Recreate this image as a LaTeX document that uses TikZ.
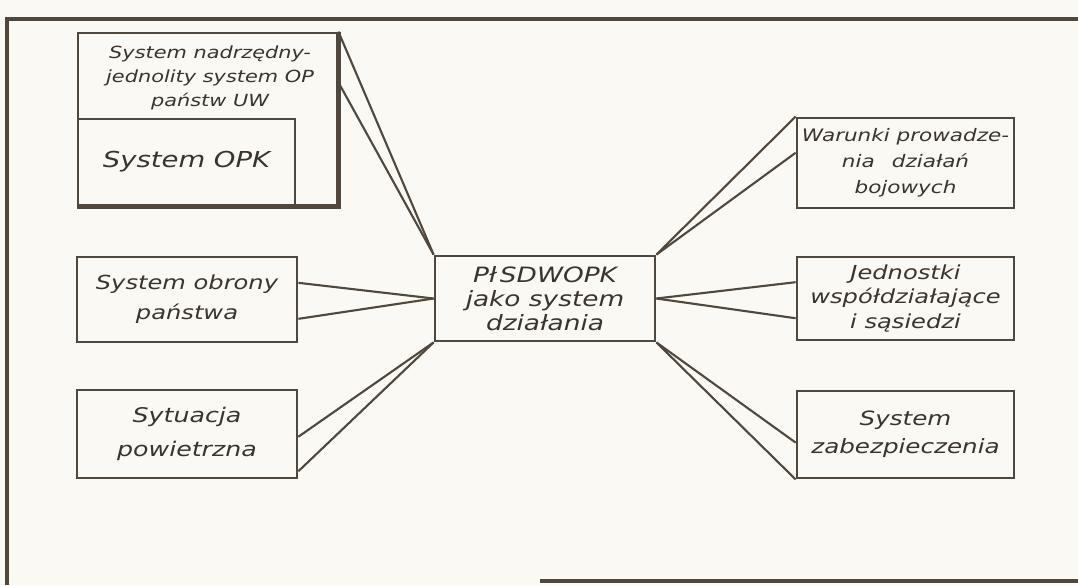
\documentclass[tikz,border=0pt]{standalone}
\usepackage{fontspec}
\setmainfont{DejaVu Sans}[FakeStretch=1.25]
\usetikzlibrary{calc}
\definecolor{ink}{RGB}{80,72,60}
\definecolor{inktext}{RGB}{58,52,44}
\definecolor{paper}{RGB}{250,249,244}

\begin{document}
\begin{tikzpicture}[x=0.02cm,y=-0.02cm,
    box/.style={draw=ink,line width=1.6pt,minimum width=4.4cm,minimum height=1.7cm,
      align=center,inner sep=1pt,text=inktext},
    conn/.style={ink,line width=1.2pt}]
  \fill[paper] (0,0) rectangle (1078,585);
  \useasboundingbox (0,0) rectangle (1078,585);
  % ramka strony
  \draw[ink,line width=2pt] (7,585)--(7,19)--(1078,19);
  \draw[ink,line width=2pt] (540,581)--(1078,581);

  % lewa strona
  \node[box,minimum width=5.18cm,minimum height=3.44cm] (nadrz) at (207.5,119) {};
  \draw[ink,line width=2.6pt] (nadrz.north east)--(nadrz.south east)--(nadrz.south west);
  \node[align=center,text=inktext,font=\itshape\fontsize{9.5}{13.5}\selectfont] (nadrztxt) at (210,78)
    {System nadrzędny-\\jednolity system OP\\państw UW};
  \node[box,minimum width=4.34cm,minimum height=1.72cm,font=\itshape\fontsize{12.5}{15}\selectfont] (opk) at (186.5,162)
    {System OPK};
  \node[box,font=\itshape\fontsize{11}{17}\selectfont] (obrona) at (187,299.5)
    {System obrony\\państwa};
  \node[box,minimum height=1.76cm,font=\itshape\fontsize{11.5}{19}\selectfont] (sytuacja) at (187,434)
    {Sytuacja\\powietrzna};

  % srodek
  \node[box,font=\itshape\fontsize{12}{13.7}\selectfont] (centre) at (545,298.5)
    {Pł\,SDWOPK\\jako system\\działania};

  % prawa strona
  \node[box,minimum width=4.34cm,minimum height=1.8cm,font=\itshape\fontsize{9.8}{14.8}\selectfont] (warunki) at (905.5,163)
    {Warunki prowadze-\\nia\quad działań\\bojowych};
  \node[box,minimum width=4.34cm,minimum height=1.66cm,font=\itshape\fontsize{11}{14.2}\selectfont] (jedn) at (905.5,298.5)
    {Jednostki\\współdziałające\\i sąsiedzi};
  \node[box,minimum width=4.34cm,minimum height=1.74cm,font=\itshape\fontsize{11.2}{16}\selectfont] (zabez) at (905.5,434.5)
    {System\\zabezpieczenia};

  % polaczenia
  \draw[conn] (nadrz.north east) -- (centre.north west);
  \draw[conn] ($(nadrz.north east)!0.29!(nadrz.south east)$) -- (centre.north west);
  \draw[conn] ($(obrona.north east)!0.31!(obrona.south east)$) -- (centre.west);
  \draw[conn] ($(obrona.north east)!0.72!(obrona.south east)$) -- (centre.west);
  \draw[conn] ($(sytuacja.north east)!0.53!(sytuacja.south east)$) -- (centre.south west);
  \draw[conn] ($(sytuacja.north east)!0.91!(sytuacja.south east)$) -- (centre.south west);
  \draw[conn] (centre.north east) -- (warunki.north west);
  \draw[conn] (centre.north east) -- ($(warunki.north west)!0.39!(warunki.south west)$);
  \draw[conn] (centre.east) -- ($(jedn.north west)!0.31!(jedn.south west)$);
  \draw[conn] (centre.east) -- ($(jedn.north west)!0.73!(jedn.south west)$);
  \draw[conn] (centre.south east) -- ($(zabez.north west)!0.59!(zabez.south west)$);
  \draw[conn] (centre.south east) -- (zabez.south west);
\end{tikzpicture}
\end{document}
